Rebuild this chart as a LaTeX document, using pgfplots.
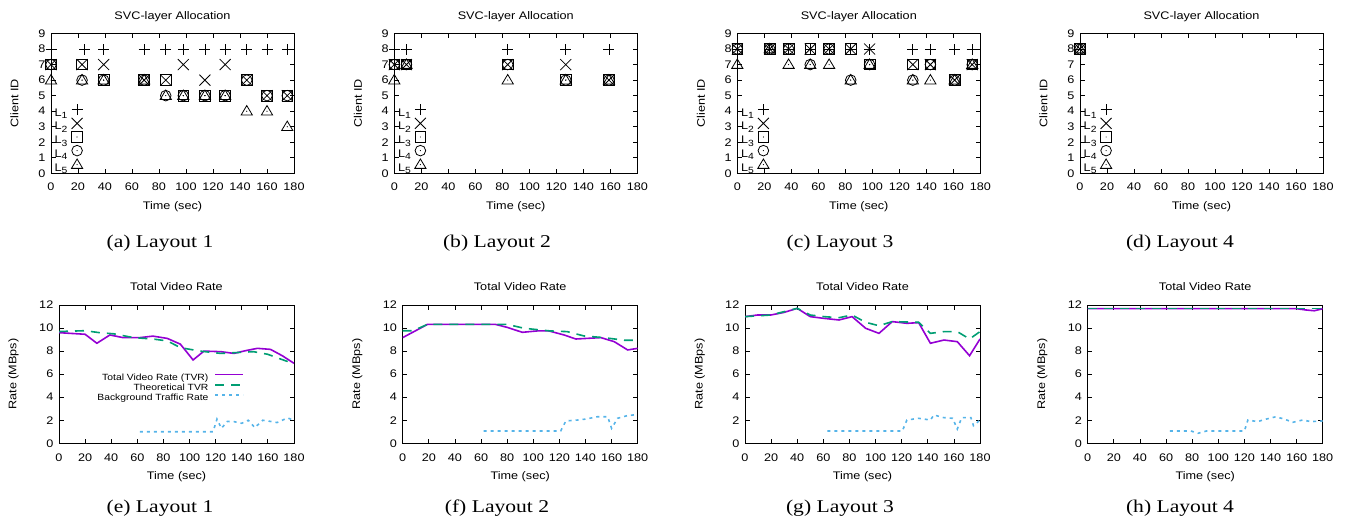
\documentclass[border=0pt]{standalone}
\usepackage{fontspec}
\setmainfont{Liberation Sans}[FakeStretch=1.15]
\newfontfamily\capfont{Liberation Serif}[FakeStretch=1.2]
\usepackage{pgfplots}
\pgfplotsset{compat=1.18}

\definecolor{gpPurple}{RGB}{148,0,211}
\definecolor{gpGreen}{RGB}{0,158,115}
\definecolor{gpBlue}{RGB}{86,180,233}

\newcommand{\Lsub}[1]{L\raisebox{-2.6pt}{\fontsize{9}{9}\selectfont #1}}

% gnuplot-like point types
\pgfdeclareplotmark{gpplus}{%
  \pgfpathmoveto{\pgfqpoint{-5.5pt}{0pt}}\pgfpathlineto{\pgfqpoint{5.5pt}{0pt}}%
  \pgfpathmoveto{\pgfqpoint{0pt}{-5.5pt}}\pgfpathlineto{\pgfqpoint{0pt}{5.5pt}}%
  \pgfusepathqstroke}
\pgfdeclareplotmark{gpcross}{%
  \pgfpathmoveto{\pgfqpoint{-5.5pt}{-5.5pt}}\pgfpathlineto{\pgfqpoint{5.5pt}{5.5pt}}%
  \pgfpathmoveto{\pgfqpoint{-5.5pt}{5.5pt}}\pgfpathlineto{\pgfqpoint{5.5pt}{-5.5pt}}%
  \pgfusepathqstroke}
\pgfdeclareplotmark{gpsq}{%
  \pgfpathrectangle{\pgfqpoint{-5.3pt}{-5.3pt}}{\pgfqpoint{10.6pt}{10.6pt}}\pgfusepathqstroke
  \pgfpathcircle{\pgfpointorigin}{0.6pt}\pgfusepathqfill}
\pgfdeclareplotmark{gpcirc}{%
  \pgfpathcircle{\pgfpointorigin}{5.3pt}\pgfusepathqstroke
  \pgfpathcircle{\pgfpointorigin}{0.6pt}\pgfusepathqfill}
\pgfdeclareplotmark{gptri}{%
  \pgfpathmoveto{\pgfqpoint{0pt}{5.6pt}}\pgfpathlineto{\pgfqpoint{-5.6pt}{-3.8pt}}%
  \pgfpathlineto{\pgfqpoint{5.6pt}{-3.8pt}}\pgfpathclose\pgfusepathqstroke
  \pgfpathcircle{\pgfpointorigin}{0.6pt}\pgfusepathqfill}

\pgfplotsset{
  gpaxis/.style={
    scale only axis,
    font=\fontsize{11}{13}\selectfont,
    axis line style={line width=0.8pt},
    tick align=inside,
    major tick length=4.5pt,
    every tick/.style={black,line width=0.8pt},
    xmin=0, xmax=180, xtick={0,20,...,180},
    /pgf/number format/assume math mode=true,
    xticklabel style={anchor=base,yshift=-17pt},
    yticklabel style={anchor=east,inner sep=0pt,xshift=-5.5pt},
    xlabel={Time (sec)},
    every axis x label/.style={at={(axis description cs:0.5,0)},anchor=base,yshift=-36.5pt},
  },
  svc/.style={
    gpaxis, width=243pt, height=139.8pt,
    ymin=0, ymax=9, ytick={0,...,9},
    title={SVC-layer Allocation},
    every axis title/.style={at={(axis description cs:0.5,1)},anchor=base,yshift=14.2pt},
    ylabel={Client ID},
    every axis y label/.style={at={(axis description cs:-0.150,0.5)},rotate=90,anchor=center},
    legend entries={\Lsub{1},\Lsub{2},\Lsub{3},\Lsub{4},\Lsub{5}},
    legend plot pos=right,
    legend cell align=right,
    legend image code/.code={\draw[##1] plot coordinates {(6pt,3.5pt)};},
    legend style={draw=none,fill=none,at={(0,0)},anchor=south west,xshift=0.5pt,yshift=-1.5pt,
      row sep=0.3pt,column sep=4pt,nodes={inner sep=0pt}},
  },
  tvr/.style={
    gpaxis, width=235pt, height=138.3pt,
    ymin=0, ymax=12, ytick={0,2,...,12},
    xticklabel style={yshift=-1.5pt},
    title={Total Video Rate},
    every axis title/.style={at={(axis description cs:0.5,1)},anchor=base,yshift=15pt},
    ylabel={Rate (MBps)},
    every axis y label/.style={at={(axis description cs:-0.193,0.5)},rotate=90,anchor=center},
    legend image code/.code={\draw[##1] (0pt,3.3pt) -- (28pt,3.3pt);},
  },
  lay1/.style={only marks, black, mark=gpplus, mark options={line width=0.8pt,fill=black}},
  lay2/.style={only marks, black, mark=gpcross, mark options={line width=0.8pt,fill=black}},
  lay3/.style={only marks, black, mark=gpsq, mark options={line width=0.8pt,fill=black}},
  lay4/.style={only marks, black, mark=gpcirc, mark options={line width=0.8pt,fill=black}},
  lay5/.style={only marks, black, mark=gptri, mark options={line width=0.8pt,fill=black}},
  tvrline/.style={gpPurple, line width=1.6pt, no markers},
  theoline/.style={gpGreen, line width=1.6pt, dash pattern=on 9pt off 7pt, no markers},
  bgline/.style={gpBlue, line width=1.6pt, dash pattern=on 3pt off 4pt, no markers},
}

\begin{document}
\begin{tikzpicture}
\useasboundingbox (0,0) rectangle (1348pt,523pt);

% (a) Layout 1
\begin{axis}[svc, at={(51pt,349.7pt)}, anchor=south west]
\addplot[lay1] coordinates {(0,8) (25,8) (39,8) (69,8) (85,8) (98,8) (114,8) (129,8) (145,8) (160,8) (175,8)};
\addplot[lay2] coordinates {(0,7) (23,7) (39,7) (69,6) (85,6) (98,7) (114,6) (129,7) (145,6) (160,5) (175,5)};
\addplot[lay3] coordinates {(0,7) (23,7) (39,6) (69,6) (85,6) (98,5) (114,5) (129,5) (145,6) (160,5) (175,5)};
\addplot[lay4] coordinates {(0,7) (23,6) (39,6) (69,6) (85,5) (98,5) (114,5) (129,5) (145,6) (160,5) (175,5)};
\addplot[lay5] coordinates {(0,6) (23,6) (39,6) (69,6) (85,5) (98,5) (114,5) (129,5) (145,4) (160,4) (175,3)};
\end{axis}

% (b) Layout 2
\begin{axis}[svc, at={(394.3pt,349.7pt)}, anchor=south west]
\addplot[lay1] coordinates {(0,8) (9,8) (84,8) (127,8) (159,8)};
\addplot[lay2] coordinates {(0,7) (9,7) (84,7) (127,7) (159,6)};
\addplot[lay3] coordinates {(0,7) (9,7) (84,7) (127,6) (159,6)};
\addplot[lay4] coordinates {(0,7) (9,7) (84,7) (127,6) (159,6)};
\addplot[lay5] coordinates {(0,6) (9,7) (84,6) (127,6) (159,6)};
\end{axis}

% (c) Layout 3
\begin{axis}[svc, at={(737.3pt,349.7pt)}, anchor=south west]
\addplot[lay1] coordinates {(0,8) (24,8) (38,8) (54,8) (68,8) (84,8) (98,8) (130,8) (143,8) (161,8) (174,8)};
\addplot[lay2] coordinates {(0,8) (24,8) (38,8) (54,8) (68,8) (84,8) (98,8) (130,7) (143,7) (161,6) (174,7)};
\addplot[lay3] coordinates {(0,8) (24,8) (38,8) (54,8) (68,8) (84,8) (98,7) (130,7) (143,7) (161,6) (174,7)};
\addplot[lay4] coordinates {(0,8) (24,8) (38,8) (54,7) (68,8) (84,6) (98,7) (130,6) (143,7) (161,6) (174,7)};
\addplot[lay5] coordinates {(0,7) (24,8) (38,7) (54,7) (68,7) (84,6) (98,7) (130,6) (143,6) (161,6) (174,7)};
\end{axis}

% (d) Layout 4
\begin{axis}[svc, at={(1080pt,349.7pt)}, anchor=south west]
\addplot[lay1] coordinates {(0,8)};
\addplot[lay2] coordinates {(0,8)};
\addplot[lay3] coordinates {(0,8)};
\addplot[lay4] coordinates {(0,8)};
\addplot[lay5] coordinates {(0,8)};
\end{axis}

% (e) Layout 1
\begin{axis}[tvr, at={(59pt,79.7pt)}, anchor=south west,
  legend entries={Total Video Rate (TVR),Theoretical TVR,Background Traffic Rate},
  legend cell align=right, legend plot pos=right,
  legend style={draw=none,fill=none,font=\fontsize{9}{10}\selectfont,
    at={(0.801,0.518)},anchor=north east,row sep=2pt,column sep=6pt,nodes={inner sep=0pt}}]
\addplot[tvrline] coordinates {(0,9.6) (20,9.46) (29,8.68) (39,9.4) (49,9.17) (62,9.17) (72,9.3) (83,9.1) (93,8.6) (102.7,7.23) (111,8.0) (124,7.95) (134,7.8) (143,8.04) (152,8.24) (162,8.15) (171,7.6) (180,6.94)};
\addplot[theoline] coordinates {(0,9.7) (20,9.77) (31,9.6) (42,9.5) (57,9.17) (72,9.05) (83,8.88) (93,8.3) (108,8.0) (124,7.8) (149,7.95) (160,7.72) (170,7.3) (180,6.9)};
\addplot[bgline] coordinates {(62,1.0) (118,1.0) (121,2.1) (124.4,1.3) (129,1.9) (134,1.88) (140,1.74) (145,2.0) (150,1.36) (156,2.0) (162,1.9) (167,1.8) (175,2.2) (180,2.0)};
\end{axis}

% (f) Layout 2
\begin{axis}[tvr, at={(402.7pt,79.7pt)}, anchor=south west]
\addplot[tvrline] coordinates {(0,9.17) (19,10.32) (71,10.32) (80,10.06) (91.6,9.63) (103,9.75) (112,9.75) (123.6,9.4) (132.6,9.05) (151.8,9.17) (162,8.82) (172.3,8.1) (180,8.24)};
\addplot[theoline] coordinates {(0,9.77) (8,9.77) (19,10.32) (80,10.32) (93,9.98) (113,9.75) (126,9.69) (139,9.31) (154,9.17) (170,8.94) (180,8.94)};
\addplot[bgline] coordinates {(62,1.07) (121,1.07) (125,1.94) (134,2.02) (140,2.1) (149,2.3) (157,2.3) (160,1.3) (164.6,2.17) (172,2.4) (180,2.5)};
\end{axis}

% (g) Layout 3
\begin{axis}[tvr, at={(745pt,79.7pt)}, anchor=south west]
\addplot[tvrline] coordinates {(0,10.99) (9.4,11.13) (19.7,11.13) (30,11.36) (40,11.71) (50,10.99) (60.5,10.84) (72,10.7) (82,10.99) (92.4,9.98) (102.6,9.54) (112.8,10.56) (124,10.41) (133,10.47) (142,8.68) (152.4,8.96) (162.6,8.82) (172,7.6) (180,9.05)};
\addplot[theoline] coordinates {(0,10.99) (19.7,11.13) (40,11.71) (50,11.13) (60.5,10.99) (72,10.9) (82,11.13) (92.4,10.5) (102.6,10.2) (112.8,10.56) (133,10.5) (142,9.54) (152.4,9.69) (162.6,9.69) (172,9.05) (180,9.69)};
\addplot[bgline] coordinates {(63,1.07) (120.5,1.07) (124,2.02) (133,2.17) (142,2.02) (144.7,2.46) (152,2.23) (159,2.17) (162.6,1.24) (166,2.23) (173,2.23) (175,1.53) (180,2.02)};
\end{axis}

% (h) Layout 4
\begin{axis}[tvr, at={(1087.7pt,79.7pt)}, anchor=south west]
\addplot[tvrline] coordinates {(0,11.68) (160,11.68) (167,11.57) (173.6,11.5) (180,11.68)};
\addplot[theoline] coordinates {(0,11.68) (180,11.68)};
\addplot[bgline] coordinates {(63,1.07) (79,1.07) (84.5,0.87) (91,1.07) (120,1.07) (122.7,2.02) (130,1.88) (136.7,2.1) (144,2.3) (150.7,2.1) (157,1.82) (164.7,2.02) (171,1.88) (180,1.94)};
\end{axis}

% sub-captions
\begin{scope}[every node/.style={anchor=base,font=\capfont\fontsize{18}{20}\selectfont}]
\node at (160pt,276pt) {(a) Layout 1};
\node at (497pt,276pt) {(b) Layout 2};
\node at (840pt,276pt) {(c) Layout 3};
\node at (1180pt,276pt) {(d) Layout 4};
\node at (160pt,11pt) {(e) Layout 1};
\node at (497pt,11pt) {(f) Layout 2};
\node at (840pt,11pt) {(g) Layout 3};
\node at (1180pt,11pt) {(h) Layout 4};
\end{scope}
\end{tikzpicture}
\end{document}
